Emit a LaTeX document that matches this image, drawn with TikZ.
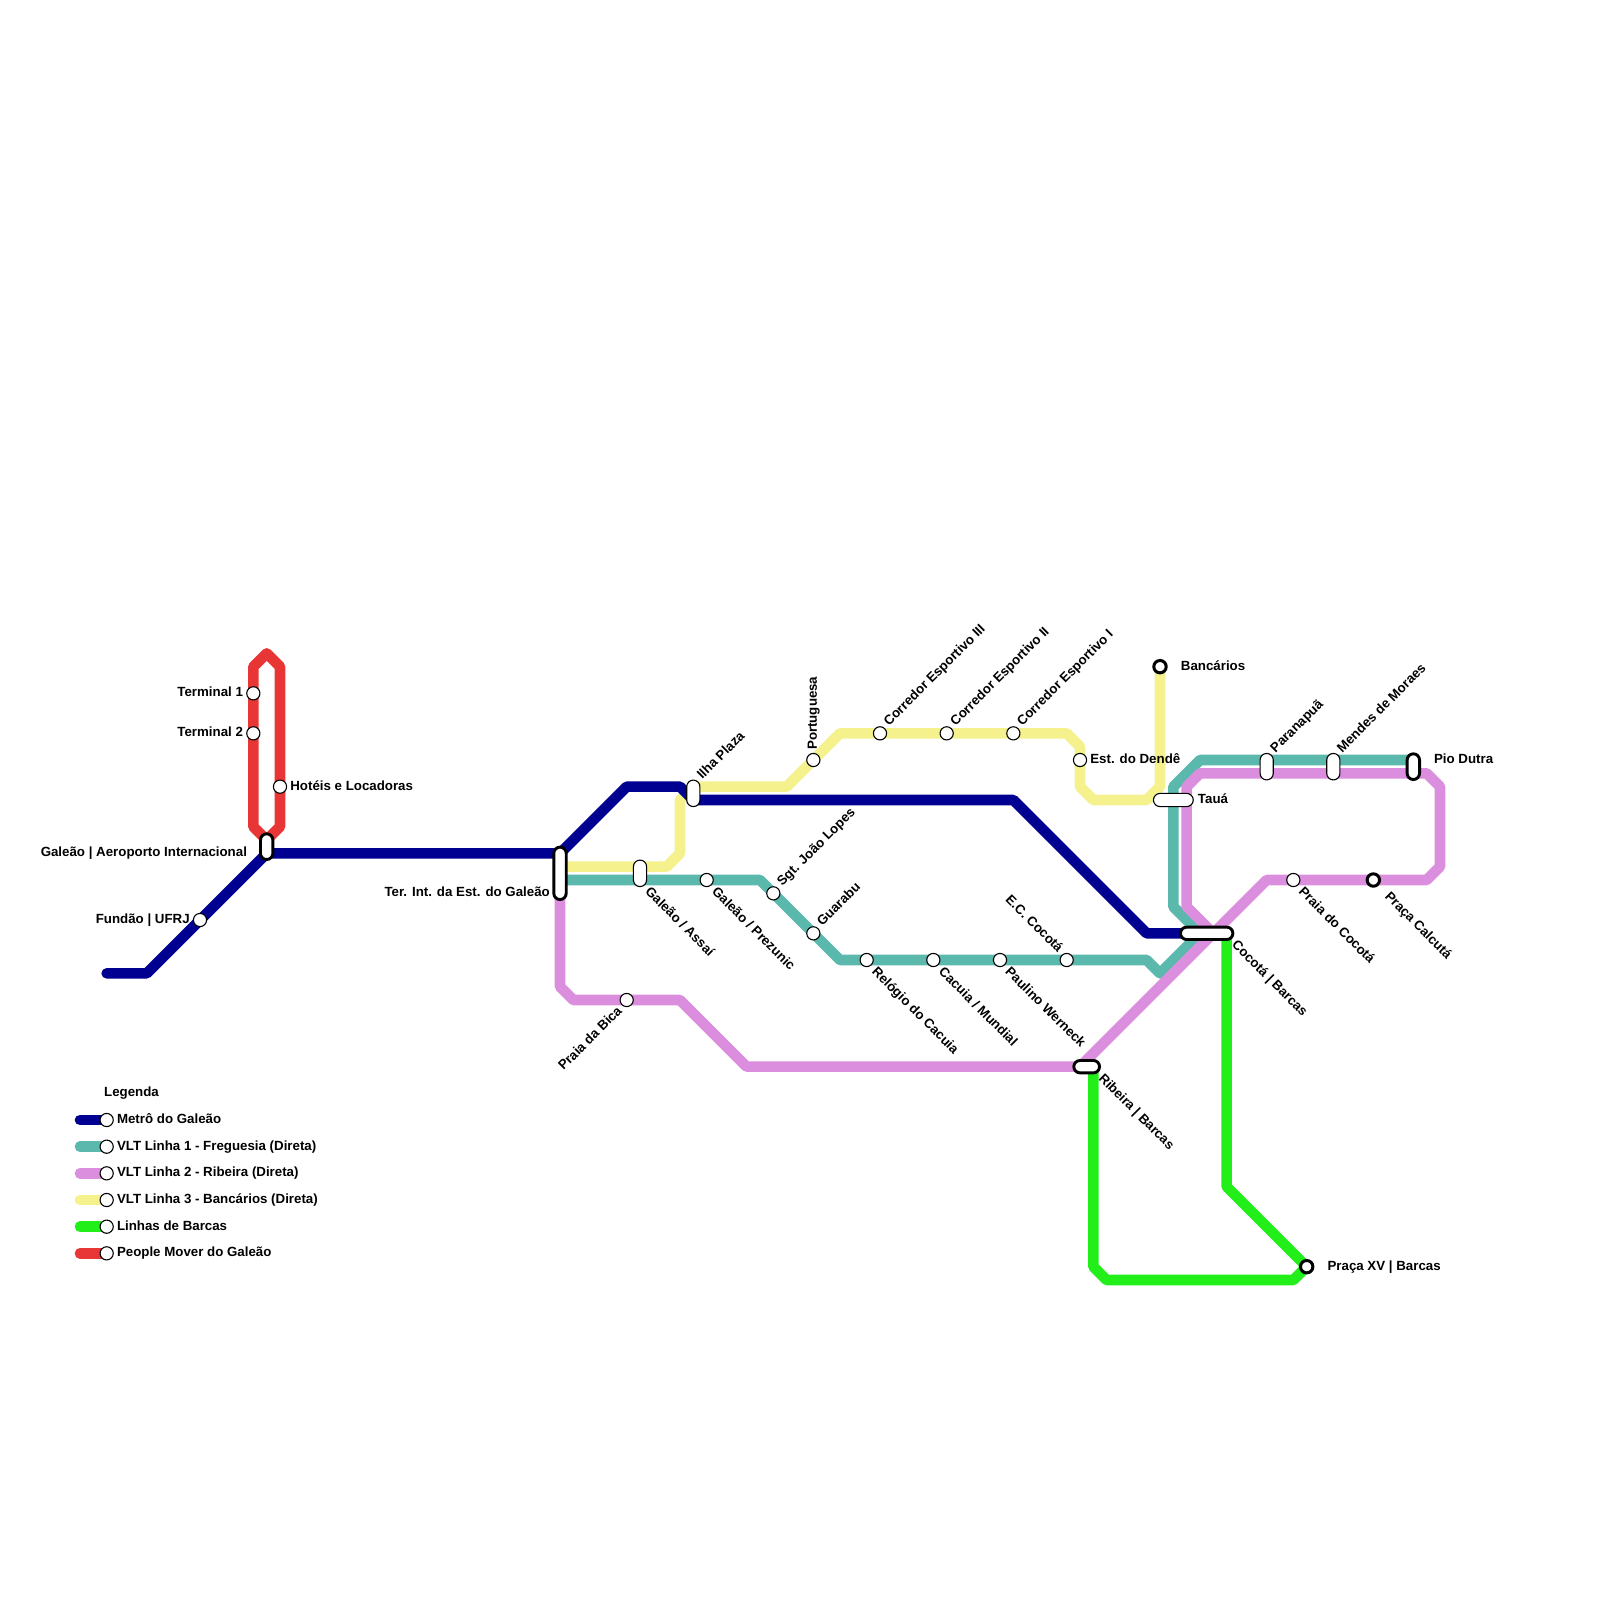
\documentclass[tikz,border=0pt]{standalone}
\usepackage{fontspec}
\setmainfont{Liberation Sans}
\usepackage{xcolor}
\usetikzlibrary{positioning, backgrounds}
\definecolor{metroblue}{RGB}{0,0,145}
\definecolor{vltteal}{RGB}{90,184,172}
\definecolor{vltpurple}{RGB}{220,142,222}
\definecolor{vltyellow}{RGB}{245,241,141}
\definecolor{barcasgreen}{RGB}{34,238,26}
\definecolor{moverred}{RGB}{232,53,53}

\begin{document}
\begin{tikzpicture}[
  x=13.3333pt, y=-13.3333pt,
  stop/.style={circle, draw=black, fill=white, line width=1.1pt,
    minimum size=13.2pt, inner sep=0pt},
  terminus/.style={circle, draw=black, fill=white, line width=3pt,
    minimum size=12.4pt, inner sep=0pt},
  pill/.style={rectangle, rounded corners=6.6pt, draw=black, fill=white,
    line width=1.1pt, minimum width=13.2pt, minimum height=13.2pt, inner sep=0pt},
  bigpill/.style={pill, line width=2.9pt, rounded corners=6.2pt,
    minimum width=12.4pt, minimum height=12.4pt},
  txt/.style={font=\fontsize{13.3}{15}\selectfont\bfseries, inner sep=0pt,
    text height=10pt, text depth=2.8pt, text=black},
  txtne/.style={txt, rotate=45, anchor=west, xshift=11pt, yshift=2pt},
  txtse/.style={txt, rotate=-45, anchor=west, xshift=12pt, yshift=-2pt},
  line/.style={line width=10.6pt, line cap=round, line join=round}
]
\useasboundingbox (0,0) rectangle (120,120);

% Ends of the interchange pills
\coordinate (aeroA) at (20,63);
\coordinate (aeroB) at (20,64);
\coordinate (terA) at (42,64);
\coordinate (terY) at (42,65);
\coordinate (terT) at (42,66);
\coordinate (terB) at (42,67);
\coordinate (assaiA) at (48,65);
\coordinate (assaiB) at (48,66);
\coordinate (ilhaA) at (52,59);
\coordinate (ilhaB) at (52,60);
\coordinate (paraA) at (95,57);
\coordinate (paraB) at (95,58);
\coordinate (mendesA) at (100,57);
\coordinate (mendesB) at (100,58);
\coordinate (pioA) at (106,57);
\coordinate (pioB) at (106,58);
\coordinate (ribA) at (81,80);
\coordinate (ribB) at (82,80);
\coordinate (cocA) at (89,70);
\coordinate (cocB) at (92,70);
\coordinate (metroStart) at (8,73);

% Stations
\node[stop] (T1) at (19,52) {};
\node[stop] (T2) at (19,55) {};
\node[stop] (Hotel) at (21,59) {};
\node[stop] (Fundao) at (15,69) {};
\node[stop] (Bica) at (47,75) {};
\node[stop] (Prezunic) at (53,66) {};
\node[stop] (Sgt) at (58,67) {};
\node[stop] (Guarabu) at (61,70) {};
\node[stop] (Relogio) at (65,72) {};
\node[stop] (Cacuia) at (70,72) {};
\node[stop] (Paulino) at (75,72) {};
\node[stop] (ECCocota) at (80,72) {};
\node[stop] (Portuguesa) at (61,57) {};
\node[stop] (Cor3) at (66,55) {};
\node[stop] (Cor2) at (71,55) {};
\node[stop] (Cor1) at (76,55) {};
\node[stop] (Dende) at (81,57) {};
\node[stop] (PraiaCoc) at (97,66) {};
\node[terminus] (Bancarios) at (87,50) {};
\node[terminus] (Calcuta) at (103,66) {};
\node[terminus] (PracaXV) at (98,95) {};

% Interchanges
\node[bigpill, minimum height=25.7pt] (Aero) at (20,63.5) {};
\node[bigpill, minimum height=52.4pt] (TerInt) at (42,65.5) {};
\node[pill, minimum height=26.5pt] (Assai) at (48,65.5) {};
\node[pill, minimum height=26.5pt] (Ilha) at (52,59.5) {};
\node[pill, minimum width=39.8pt] (Taua) at (88,60) {};
\node[pill, minimum height=26.5pt] (Para) at (95,57.5) {};
\node[pill, minimum height=26.5pt] (Mendes) at (100,57.5) {};
\node[bigpill, minimum height=25.7pt] (Pio) at (106,57.5) {};
\node[bigpill, minimum width=25.7pt] (Ribeira) at (81.5,80) {};
\node[bigpill, minimum width=52.4pt] (Cocota) at (90.5,70) {};

% Station labels
\node[txt, left=3pt of T1] (lT1) {Terminal 1};
\node[txt, left=3pt of T2] (lT2) {Terminal 2};
\node[txt, right=3pt of Hotel] (lHotel) {Hotéis e Locadoras};
\node[txt, left=3pt of Fundao] (lFundao) {Fundão | UFRJ};
\node[txt, anchor=east, xshift=-19.5pt] (lAero) at (aeroB) {Galeão | Aeroporto Internacional};
\node[txt, anchor=east, xshift=-10pt] (lTer) at (terB) {Ter. Int. da Est. do Galeão};
\node[txtse] (lAssai) at (assaiB) {Galeão / Assaí};
\node[txtse] (lPrezunic) at (Prezunic) {Galeão / Prezunic};
\node[txtne] (lIlha) at (ilhaA) {Ilha Plaza};
\node[txtne] (lSgt) at (Sgt) {Sgt. João Lopes};
\node[txtne] (lGuarabu) at (Guarabu) {Guarabu};
\node[txt, rotate=90, anchor=west, xshift=10pt, yshift=0pt] (lPort) at (Portuguesa) {Portuguesa};
\node[txtne] (lCor3) at (Cor3) {Corredor Esportivo III};
\node[txtne] (lCor2) at (Cor2) {Corredor Esportivo II};
\node[txtne] (lCor1) at (Cor1) {Corredor Esportivo I};
\node[txt, right=3pt of Dende] (lDende) {Est. do Dendê};
\node[txt, right=13pt of Bancarios] (lBanc) {Bancários};
\node[txt, right=4pt of Taua] (lTaua) {Tauá};
\node[txtne] (lPara) at (paraA) {Paranapuã};
\node[txtne] (lMendes) at (mendesA) {Mendes de Moraes};
\node[txt, anchor=west, xshift=20.5pt] (lPio) at (pioA) {Pio Dutra};
\node[txtse] (lPraiaCoc) at (PraiaCoc) {Praia do Cocotá};
\node[txtse, xshift=8pt, yshift=1pt] (lCalcuta) at (Calcuta) {Praça Calcutá};
\node[txt, right=13pt of PracaXV] (lXV) {Praça XV | Barcas};
\node[txtse] (lCocota) at (cocB) {Cocotá | Barcas};
\node[txtse] (lRibeira) at (ribB) {Ribeira | Barcas};
\node[txtse] (lRelogio) at (Relogio) {Relógio do Cacuia};
\node[txtse] (lCacuia) at (Cacuia) {Cacuia / Mundial};
\node[txtse] (lPaulino) at (Paulino) {Paulino Werneck};
\node[txt, rotate=-45, anchor=east, xshift=-11pt, yshift=2pt] (lEC) at (ECCocota) {E.C. Cocotá};
\node[txt, rotate=45, anchor=east, xshift=-11pt, yshift=-2pt] (lBica) at (Bica) {Praia da Bica};

% Legend
\node[txt, anchor=west] (lLegenda) at (7.8,82) {Legenda};
\coordinate (keyA1) at (6,84);
\coordinate (keyA2) at (6,86);
\coordinate (keyA3) at (6,88);
\coordinate (keyA4) at (6,90);
\coordinate (keyA5) at (6,92);
\coordinate (keyA6) at (6,94);
\node[stop] (keyB1) at (8,84) {};
\node[stop] (keyB2) at (8,86) {};
\node[stop] (keyB3) at (8,88) {};
\node[stop] (keyB4) at (8,90) {};
\node[stop] (keyB5) at (8,92) {};
\node[stop] (keyB6) at (8,94) {};
\node[txt, right=3pt of keyB1] (lKey1) {Metrô do Galeão};
\node[txt, right=3pt of keyB2] (lKey2) {VLT Linha 1 - Freguesia (Direta)};
\node[txt, right=3pt of keyB3] (lKey3) {VLT Linha 2 - Ribeira (Direta)};
\node[txt, right=3pt of keyB4] (lKey4) {VLT Linha 3 - Bancários (Direta)};
\node[txt, right=3pt of keyB5] (lKey5) {Linhas de Barcas};
\node[txt, right=3pt of keyB6] (lKey6) {People Mover do Galeão};

\begin{scope}[on background layer]
% VLT 3
\draw[line, vltyellow] (terY) -- (assaiA) -- (50,65) -- (51,64) -- (51,60) -- (ilhaA)
  -- (59,59) -- (Portuguesa.center) -- (63,55) -- (Cor3.center) -- (Cor2.center)
  -- (Cor1.center) -- (80,55) -- (81,56) -- (Dende.center) -- (81,59) -- (82,60)
  -- (86,60) -- (87,59) -- (Bancarios.center);
\draw[line, vltyellow] (keyA4) -- (keyB4.center);
% VLT 1
\draw[line, vltteal] (terT) -- (assaiB) -- (Prezunic.center) -- (57,66) -- (Sgt.center)
  -- (Guarabu.center) -- (63,72) -- (Relogio.center) -- (Cacuia.center)
  -- (Paulino.center) -- (ECCocota.center) -- (86,72) -- (87,73) -- (90,70)
  -- (88,68) -- (88,59) -- (90,57) -- (paraA) -- (mendesA) -- (pioA);
\draw[line, vltteal] (keyA2) -- (keyB2.center);
% VLT 2
\draw[line, vltpurple] (terB) -- (42,74) -- (43,75) -- (Bica.center) -- (51,75)
  -- (56,80) -- (ribA) -- (95,66) -- (PraiaCoc.center) -- (Calcuta.center)
  -- (107,66) -- (108,65) -- (108,59) -- (107,58) -- (pioB) -- (mendesB) -- (paraB)
  -- (90,58) -- (89,59) -- (89,68) -- (91,70);
\draw[line, vltpurple] (keyA3) -- (keyB3.center);
% Metro
\draw[line, metroblue] (metroStart) -- (11,73) -- (Fundao.center) -- (aeroB) -- (terA)
  -- (47,59) -- (51,59) -- (ilhaB) -- (76,60) -- (86,70) -- (cocA);
\draw[line, metroblue] (keyA1) -- (keyB1.center);
% Barcas
\draw[line, barcasgreen] (ribB) -- (82,95) -- (83,96) -- (97,96) -- (PracaXV.center)
  -- (92,89) -- (cocB);
\draw[line, barcasgreen] (keyA5) -- (keyB5.center);
% People mover
\draw[line, moverred] (aeroA) -- (19,62) -- (T2.center) -- (T1.center) -- (19,50) -- (20,49)
  -- (21,50) -- (Hotel.center) -- (21,62) -- (aeroA);
\draw[line, moverred] (keyA6) -- (keyB6.center);
\end{scope}
\end{tikzpicture}
\end{document}
